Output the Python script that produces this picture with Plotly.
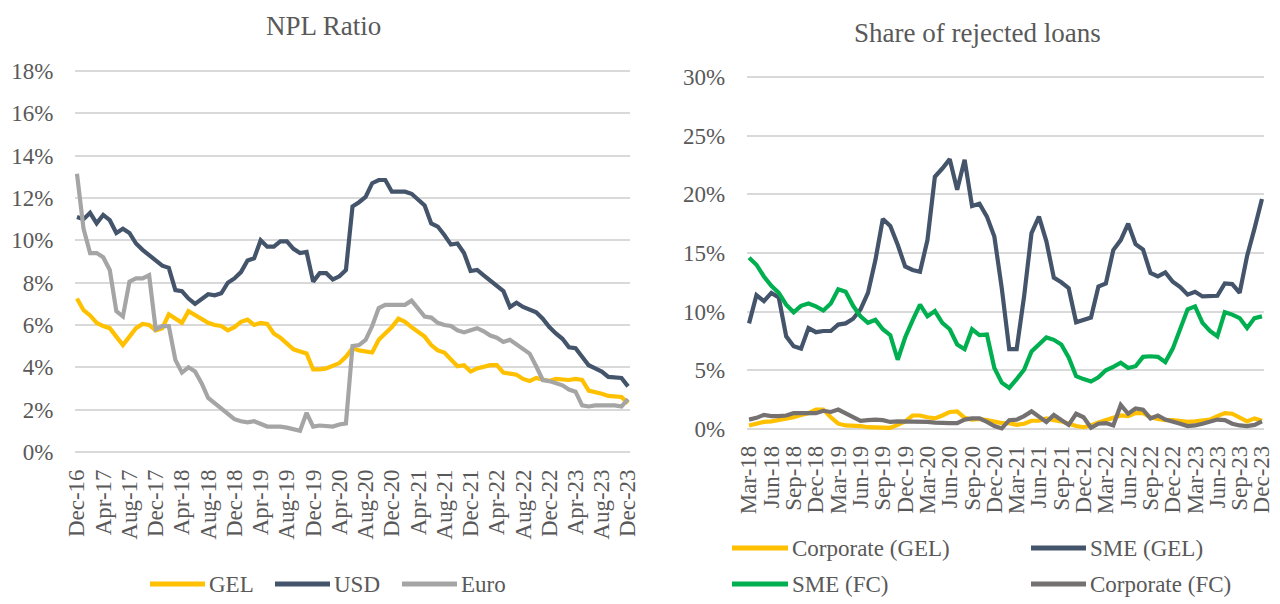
import pandas as pd
import plotly.graph_objects as go

# ---------------- data ----------------
npl_months = pd.date_range("2016-12-01", "2023-12-01", freq="MS").strftime("%b-%y").tolist()
rej_months = pd.date_range("2018-03-01", "2023-12-01", freq="MS").strftime("%b-%y").tolist()
npl_ticks = npl_months[::4]
rej_ticks = rej_months[::3]
npl_yticks = list(range(0, 19, 2))
rej_yticks = list(range(0, 31, 5))

npl_gel = [7.25, 6.7, 6.45, 6.1, 5.95, 5.85, 5.45, 5.05, 5.45, 5.85,
           6.05, 6.0, 5.75, 5.85, 6.5, 6.3, 6.1, 6.65, 6.45, 6.25,
           6.1, 6.0, 5.95, 5.75, 5.9, 6.15, 6.25, 6.0, 6.1, 6.05,
           5.6, 5.4, 5.1, 4.85, 4.75, 4.65, 3.9, 3.9, 3.95, 4.1,
           4.2, 4.5, 4.9, 4.8, 4.75, 4.7, 5.3, 5.6, 5.9, 6.3,
           6.15, 5.9, 5.65, 5.45, 5.05, 4.8, 4.7, 4.35, 4.05, 4.1,
           3.8, 3.95, 4.05, 4.1, 4.1, 3.75, 3.7, 3.65, 3.45, 3.35,
           3.5, 3.4, 3.35, 3.45, 3.4, 3.4, 3.45, 3.4, 2.9, 2.85,
           2.75, 2.65, 2.6, 2.6, 2.3]
npl_usd = [11.1, 11.0, 11.3, 10.8, 11.2, 10.95, 10.35, 10.55, 10.35, 9.85,
           9.55, 9.3, 9.0, 8.8, 8.7, 7.65, 7.6, 7.25, 7.0, 7.2,
           7.45, 7.4, 7.5, 8.0, 8.2, 8.5, 9.05, 9.15, 10.0, 9.7,
           9.7, 9.95, 9.95, 9.6, 9.4, 9.45, 8.05, 8.45, 8.45, 8.15,
           8.3, 8.6, 11.6, 11.8, 12.05, 12.7, 12.85, 12.85, 12.3, 12.3,
           12.3, 12.2, 11.9, 11.65, 10.8, 10.65, 10.25, 9.8, 9.85, 9.4,
           8.55, 8.6, 8.35, 8.1, 7.85, 7.6, 6.85, 7.05, 6.85, 6.7,
           6.6, 6.3, 5.9, 5.6, 5.35, 4.95, 4.9, 4.5, 4.1, 3.95,
           3.8, 3.55, 3.5, 3.5, 3.1]
npl_euro = [13.15, 10.55, 9.4, 9.4, 9.2, 8.6, 6.65, 6.4, 8.05, 8.2,
            8.2, 8.35, 5.8, 5.95, 5.95, 4.35, 3.75, 4.0, 3.8, 3.25,
            2.55, 2.3, 2.1, 1.85, 1.55, 1.45, 1.4, 1.45, 1.35, 1.2,
            1.2, 1.2, 1.15, 1.1, 1.0, 1.85, 1.2, 1.25, 1.2, 1.2,
            1.3, 1.35, 5.0, 5.05, 5.3, 5.95, 6.8, 6.95, 6.95, 6.95,
            6.95, 7.15, 6.75, 6.4, 6.35, 6.1, 6.0, 5.95, 5.75, 5.65,
            5.75, 5.85, 5.7, 5.5, 5.4, 5.2, 5.3, 5.1, 4.85, 4.65,
            4.05, 3.4, 3.35, 3.25, 3.15, 2.95, 2.85, 2.2, 2.15, 2.2,
            2.2, 2.2, 2.2, 2.15, 2.5]

rej_corp_gel = [0.3, 0.45, 0.6, 0.65, 0.75, 0.9, 1.0, 1.2, 1.35, 1.65,
                1.65, 1.0, 0.45, 0.3, 0.3, 0.25, 0.15, 0.15, 0.15, 0.1,
                0.35, 0.65, 1.15, 1.15, 1.0, 0.9, 1.15, 1.45, 1.5, 0.95,
                0.8, 0.85, 0.75, 0.6, 0.5, 0.5, 0.35, 0.45, 0.7, 0.7,
                0.9, 0.75, 0.65, 0.45, 0.25, 0.15, 0.3, 0.55, 0.75, 0.95,
                1.15, 1.1, 1.35, 1.35, 1.0, 0.85, 0.75, 0.75, 0.65, 0.6,
                0.65, 0.75, 0.8, 1.1, 1.35, 1.3, 0.95, 0.65, 0.9, 0.7]
rej_sme_gel = [9.0, 11.4, 10.9, 11.6, 11.2, 7.9, 7.05, 6.85, 8.6, 8.25,
               8.35, 8.35, 8.9, 9.0, 9.4, 10.2, 11.6, 14.4, 17.9, 17.3,
               15.7, 13.85, 13.55, 13.4, 16.1, 21.5, 22.2, 23.0, 20.4, 22.95,
               19.0, 19.2, 18.1, 16.4, 12.0, 6.8, 6.8, 11.3, 16.7, 18.1,
               16.0, 12.9, 12.5, 12.0, 9.1, 9.3, 9.5, 12.15, 12.4, 15.25,
               16.1, 17.5, 15.75, 15.3, 13.3, 13.0, 13.35, 12.55, 12.1, 11.45,
               11.7, 11.3, 11.3, 11.35, 12.4, 12.35, 11.6, 14.75, 17.1, 19.6]
rej_sme_fc = [14.6, 14.0, 13.0, 12.2, 11.6, 10.6, 9.95, 10.5, 10.7, 10.45,
              10.1, 10.7, 11.9, 11.7, 10.5, 9.6, 9.05, 9.3, 8.5, 8.0,
              5.9, 7.8, 9.25, 10.6, 9.6, 10.05, 9.05, 8.5, 7.2, 6.8,
              8.5, 8.0, 8.05, 5.2, 3.95, 3.5, 4.25, 5.05, 6.6, 7.2,
              7.8, 7.6, 7.2, 6.1, 4.5, 4.25, 4.05, 4.4, 5.0, 5.3,
              5.65, 5.2, 5.35, 6.15, 6.2, 6.15, 5.7, 6.85, 8.5, 10.2,
              10.45, 9.05, 8.35, 7.9, 9.95, 9.75, 9.45, 8.6, 9.45, 9.6]
rej_corp_fc = [0.8, 0.95, 1.2, 1.1, 1.1, 1.15, 1.35, 1.35, 1.35, 1.35,
               1.55, 1.45, 1.65, 1.3, 1.05, 0.7, 0.75, 0.8, 0.75, 0.6,
               0.65, 0.65, 0.6, 0.65, 0.6, 0.55, 0.5, 0.5, 0.5, 0.8,
               0.9, 0.9, 0.6, 0.25, 0.05, 0.75, 0.8, 1.1, 1.5, 1.0,
               0.6, 1.2, 0.75, 0.35, 1.3, 1.0, 0.1, 0.45, 0.5, 0.3,
               2.05, 1.3, 1.75, 1.65, 0.9, 1.15, 0.8, 0.65, 0.45, 0.25,
               0.3, 0.45, 0.65, 0.8, 0.75, 0.45, 0.3, 0.25, 0.35, 0.65]

npl_series = [("GEL", npl_gel, "#FFC000"), ("USD", npl_usd, "#44546A"), ("Euro", npl_euro, "#A5A5A5")]
rej_series = [("Corporate (GEL)", rej_corp_gel, "#FFC000"), ("SME (GEL)", rej_sme_gel, "#44546A"),
              ("SME (FC)", rej_sme_fc, "#00B050"), ("Corporate (FC)", rej_corp_fc, "#767171")]

# ---------------- style ----------------
OFF = 8                       # page body margin in the browser
W, H = 1280 - OFF, 604 - OFF  # figure size so that the page fills the window
FONT = "Liberation Serif"
TXT = "#595959"
GRID = "#D9D9D9"
LW = 4.2
CLEAR = "rgba(0,0,0,0)"


def px(x):
    """window pixel x -> paper fraction"""
    return (x - OFF) / W


def py(y):
    """window pixel y -> paper fraction"""
    return 1 - (y - OFF) / H


fig = go.Figure()
for name, vals, col in npl_series:
    fig.add_trace(go.Scatter(x=npl_months, y=vals, name=name, mode="lines",
                             line=dict(color=col, width=LW), xaxis="x", yaxis="y",
                             showlegend=False))
for name, vals, col in rej_series:
    fig.add_trace(go.Scatter(x=rej_months, y=vals, name=name, mode="lines",
                             line=dict(color=col, width=LW), xaxis="x2", yaxis="y2",
                             showlegend=False))

tickfont = dict(family=FONT, size=23, color=TXT)
ytickfont = dict(family=FONT, size=23, color=TXT)
common_x = dict(type="category", tickmode="array", tickangle=-90, showgrid=False,
                zeroline=False, showline=False, ticks="outside", ticklen=3,
                tickcolor=CLEAR, tickfont=tickfont, automargin=False)
common_y = dict(showgrid=True, gridcolor=GRID, gridwidth=2, zeroline=False, showline=False,
                ticks="outside", ticklen=16, tickcolor=CLEAR, tickfont=ytickfont,
                tickmode="array", automargin=False)

fig.update_layout(
    template="none",
    width=W, height=H,
    margin=dict(l=0, r=0, t=0, b=0, pad=0),
    paper_bgcolor="white", plot_bgcolor="white",
    xaxis=dict(common_x, domain=[px(75), px(630)], range=[-0.3, 84.3],
               tickvals=npl_ticks, ticktext=npl_ticks, anchor="y"),
    yaxis=dict(common_y, domain=[py(456.2), py(66.8)], range=[-0.2, 18.2],
               tickvals=npl_yticks, ticktext=[f"{v}%" for v in npl_yticks], anchor="x"),
    xaxis2=dict(common_x, domain=[px(746.8), px(1264.2)], range=[-0.3, 69.3],
                tickvals=rej_ticks, ticktext=rej_ticks, anchor="y2"),
    yaxis2=dict(common_y, domain=[py(432.5), py(73.5)], range=[-0.3, 30.3],
                tickvals=rej_yticks, ticktext=[f"{v}%" for v in rej_yticks], anchor="x2"),
    showlegend=False,
)

annotations = [
    dict(text="NPL Ratio", x=px(323), y=py(9), xref="paper", yref="paper",
         xanchor="center", yanchor="top", showarrow=False,
         font=dict(family=FONT, size=27, color=TXT)),
    dict(text="Share of rejected loans", x=px(977), y=py(33), xref="paper", yref="paper",
         xanchor="center", yanchor="middle", showarrow=False,
         font=dict(family=FONT, size=27, color=TXT)),
]
shapes = []

# legend entries: (label, colour, line x0, line x1, y)
legend_items = [
    ("GEL", "#FFC000", 150, 205, 584),
    ("USD", "#44546A", 275, 330, 584),
    ("Euro", "#A5A5A5", 402, 457, 584),
    ("Corporate (GEL)", "#FFC000", 732, 788, 548),
    ("SME (GEL)", "#44546A", 1031, 1086, 548),
    ("SME (FC)", "#00B050", 732, 788, 584),
    ("Corporate (FC)", "#767171", 1031, 1086, 584),
]
for label, col, x0, x1, y in legend_items:
    shapes.append(dict(type="line", xref="paper", yref="paper", x0=px(x0), x1=px(x1),
                       y0=py(y), y1=py(y), line=dict(color=col, width=5)))
    annotations.append(dict(text=label, x=px(x1 + 2), y=py(y), xref="paper", yref="paper",
                            xanchor="left", yanchor="middle", showarrow=False,
                            font=dict(family=FONT, size=23, color=TXT)))

fig.update_layout(annotations=annotations, shapes=shapes)
fig.write_html("out.html")
